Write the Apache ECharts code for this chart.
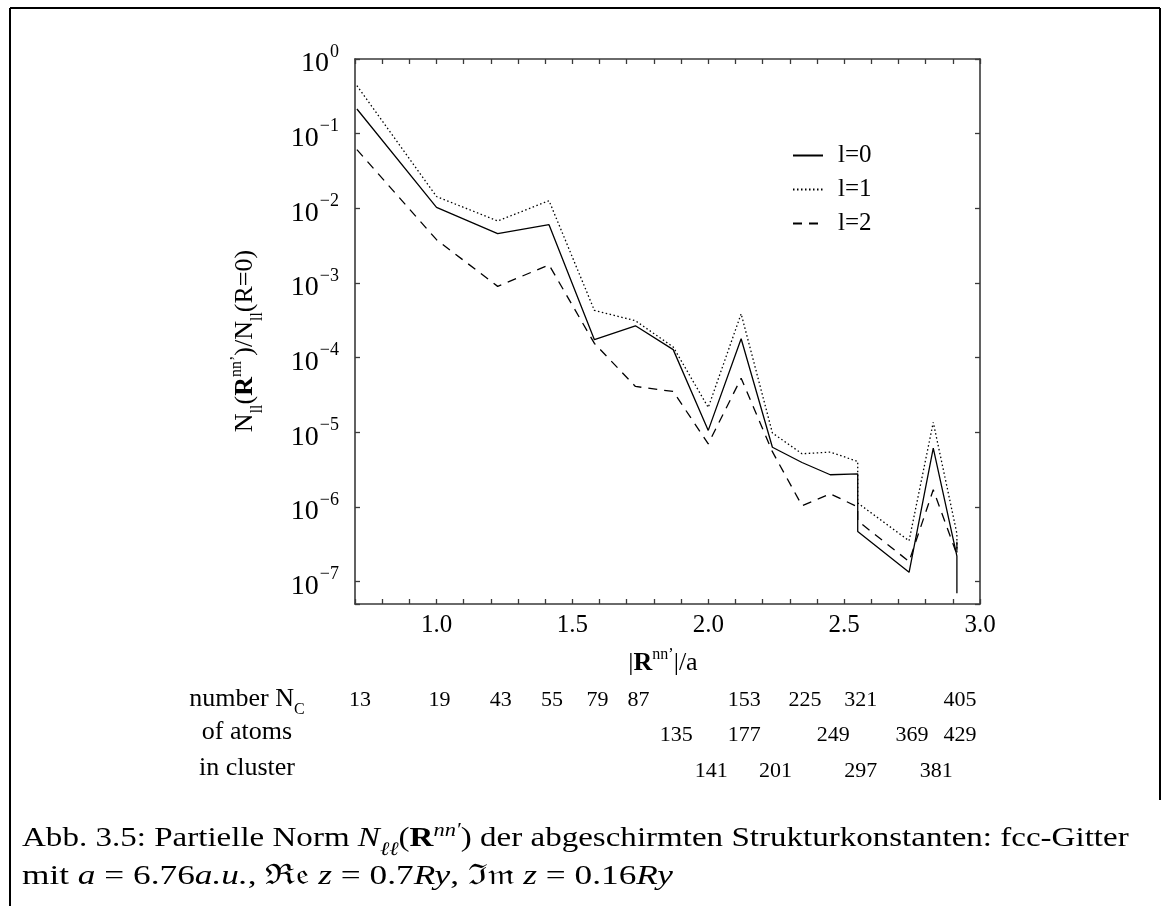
<!DOCTYPE html>
<html><head><meta charset="utf-8">
<script src="https://cdn.jsdelivr.net/npm/echarts@6/dist/echarts.min.js"></script>
<style>html,body{margin:0;padding:0;background:#fff}#c{width:1168px;height:906px}</style>
</head><body><div id="c"></div>
<script>
// shell distances |R|/a (two orbits share 2.55 and 2.915)
const distances = [0.707,1.0,1.225,1.414,1.581,1.732,1.871,2.0,2.121,2.236,2.345,2.449,2.55,2.55,2.739,2.828,2.915,2.915];
const normL0 = [0.214,0.0103,0.00457,0.00603,1.74e-4,2.67e-4,1.28e-4,1.06e-5,1.79e-4,6.3e-6,3.94e-6,2.7e-6,2.78e-6,4.7e-7,1.33e-7,6.15e-6,2.2e-7,7.0e-8];
const normL1 = [0.44,0.0144,0.00676,0.01265,4.29e-4,3.12e-4,1.39e-4,2.15e-5,3.87e-4,9.8e-6,5.16e-6,5.43e-6,4.07e-6,1.13e-6,3.52e-7,1.36e-5,4.4e-7,2.4e-7];
const normL2 = [0.061,3.8e-3,9.0e-4,1.75e-3,1.55e-4,4.11e-5,3.52e-5,7.0e-6,5.3e-5,5.5e-6,1.04e-6,1.5e-6,1.0e-6,6.5e-7,1.86e-7,1.7e-6,2.3e-7,3.8e-7];
const seriesNames = ['l=0','l=1','l=2'];
const xTickValues = [1.0,1.5,2.0,2.5,3.0];
const xTickLabels = ['1.0','1.5','2.0','2.5','3.0'];
const yTickExponents = ['0','\u22121','\u22122','\u22123','\u22124','\u22125','\u22126','\u22127'];
// cluster sizes (number of atoms) at shell distances
const clusterRow1 = [[0.707,'13'],[1.0,'19'],[1.225,'43'],[1.414,'55'],[1.581,'79'],[1.732,'87'],[2.121,'153'],[2.345,'225'],[2.55,'321'],[2.915,'405']];
const clusterRow2 = [[1.871,'135'],[2.121,'177'],[2.449,'249'],[2.739,'369'],[2.915,'429']];
const clusterRow3 = [[2.0,'141'],[2.236,'201'],[2.55,'297'],[2.828,'381']];
const rowLabels = ['{t|number N}{sb|C}','{t|of atoms}','{t|in cluster}'];

const FF = 'Liberation Serif';
const AX = '#3a3a3a';
const chart = echarts.init(document.getElementById('c'), null, {renderer:'canvas'});

function xLab(v){
  for (let i=0;i<xTickValues.length;i++) if (Math.abs(v-xTickValues[i])<1e-6) return xTickLabels[i];
  return '';
}
function yLab(v){
  const e = Math.log10(v), r = Math.round(e);
  if (Math.abs(e-r) > 0.01 || r > 0 || r < -7) return '';
  return '{b|10}{s|' + yTickExponents[-r] + '}';
}
const axisCommon = {
  axisLine:{show:true, onZero:false, lineStyle:{color:AX, width:1.6}},
  axisTick:{show:true, inside:true, length:5, lineStyle:{color:AX, width:1.3}},
  splitLine:{show:false}
};
const mk = (d) => distances.map((x,i)=>[x,d[i]]);
const lineSeries = (name, data, type) => ({
  name, type:'line', data:mk(data), symbol:'none', xAxisIndex:0, yAxisIndex:0,
  lineStyle:{color:'#000', width:1.3, type}, itemStyle:{color:'#000'}, animation:false
});

const option = {
  backgroundColor:'#fff',
  animation:false,
  grid:{left:355, right:188, top:59, bottom:302},
  xAxis:[
    Object.assign({type:'value', min:0.7, max:3.0, interval:0.1, position:'bottom',
      axisLabel:{formatter:xLab, fontSize:25, fontFamily:FF, color:'#000', margin:9}}, axisCommon),
    Object.assign({type:'value', min:0.7, max:3.0, interval:0.1, position:'top',
      axisLabel:{show:false}}, axisCommon)
  ],
  yAxis:[
    Object.assign({type:'log', logBase:10, min:Math.pow(10,-7.3), max:1, position:'left',
      axisLabel:{formatter:yLab, margin:16, color:'#000',
        rich:{b:{fontSize:28, fontFamily:FF, color:'#000', lineHeight:38, verticalAlign:'bottom'},
              s:{fontSize:18, fontFamily:FF, color:'#000', verticalAlign:'top', padding:[3,0,0,1]}}}}, axisCommon),
    Object.assign({type:'log', logBase:10, min:Math.pow(10,-7.3), max:1, position:'right',
      axisLabel:{show:false}}, axisCommon)
  ],
  legend:{orient:'vertical', left:792, top:143, padding:0, itemWidth:30, itemHeight:20, itemGap:9,
    data:seriesNames,
    itemStyle:{color:'rgba(0,0,0,0)', borderWidth:0, opacity:0},
    textStyle:{fontSize:25, fontFamily:FF, color:'#000', padding:[0,0,0,10]}},
  series:[
    lineSeries(seriesNames[0], normL0, 'solid'),
    lineSeries(seriesNames[1], normL1, [1.5,2.5]),
    lineSeries(seriesNames[2], normL2, [9,7])
  ]
};
chart.setOption(option);

const richBase = {
  n:{fontSize:26, fontFamily:FF, color:'#000', padding:[4,0,7,0], verticalAlign:'bottom'},
  r:{fontSize:26, fontFamily:FF, fontWeight:'bold', color:'#000', padding:[4,0,7,0], verticalAlign:'bottom'},
  sb:{fontSize:16, fontFamily:FF, color:'#000', verticalAlign:'bottom'},
  sp:{fontSize:16, fontFamily:FF, color:'#000', verticalAlign:'top'}
};
const tableRich = {
  t:{fontSize:26, fontFamily:FF, color:'#000', padding:[0,0,6,0], verticalAlign:'bottom'},
  sb:{fontSize:16, fontFamily:FF, color:'#000', verticalAlign:'bottom'}
};
const capRich = {
  t:{fontSize:28, fontFamily:FF, color:'#000', padding:[4,0,6,0], verticalAlign:'bottom'},
  i:{fontSize:28, fontFamily:FF, fontStyle:'italic', color:'#000', padding:[4,0,6,0], verticalAlign:'bottom'},
  b:{fontSize:28, fontFamily:FF, fontWeight:'bold', color:'#000', padding:[4,0,6,0], verticalAlign:'bottom'},
  sbi:{fontSize:19, fontFamily:FF, fontStyle:'italic', color:'#000', verticalAlign:'bottom'},
  spi:{fontSize:19, fontFamily:FF, fontStyle:'italic', color:'#000', verticalAlign:'top'}
};

const graphics = [];
// frame
graphics.push({type:'line', shape:{x1:10,y1:8,x2:1160,y2:8}, style:{stroke:'#000', lineWidth:2}});
graphics.push({type:'line', shape:{x1:10,y1:8,x2:10,y2:906}, style:{stroke:'#000', lineWidth:2}});
graphics.push({type:'line', shape:{x1:1160,y1:8,x2:1160,y2:800}, style:{stroke:'#000', lineWidth:2}});
// axis titles
graphics.push({type:'text', x:247, y:341, rotation:Math.PI/2,
  style:{text:'{n|N}{sb|ll}{n|(}{r|R}{sp|nn\u2019}{n|)/N}{sb|ll}{n|(R=0)}', rich:richBase, align:'center', verticalAlign:'middle'}});
graphics.push({type:'text', x:663, y:665,
  style:{text:'{n||}{r|R}{sp|nn\u2019}{n||/a}', rich:richBase, align:'center', verticalAlign:'middle'}});
// table
const rowY = [700, 735, 771];
[clusterRow1, clusterRow2, clusterRow3].forEach((row, k) => {
  graphics.push({type:'text', x:247, y:rowY[k] + (k===0 ? 2 : 0), style:{text:rowLabels[k], rich:tableRich, align:'center', verticalAlign:'middle'}});
  row.forEach(([xv, lab]) => {
    const px = chart.convertToPixel({xAxisIndex:0}, xv);
    graphics.push({type:'text', x:px + 3, y:rowY[k], style:{text:lab, fontSize:22, fontFamily:FF, fill:'#000', align:'center', verticalAlign:'middle'}});
  });
});
// caption
graphics.push({type:'text', x:22, y:840, scaleX:1.18, style:{text:'{t|Abb. 3.5: Partielle Norm }{i|N}{sbi|\u2113\u2113}{t|(}{b|R}{spi|nn\u2032}{t|) der abgeschirmten Strukturkonstanten: fcc-Gitter}', rich:capRich, align:'left', verticalAlign:'middle'}});
graphics.push({type:'text', x:22, y:878, scaleX:1.26, style:{text:'{t|mit }{i|a}{t| = 6.76}{i|a.u.}{t|, \u211C\uD835\uDD22 }{i|z}{t| = 0.7}{i|Ry}{t|, \u2111\uD835\uDD2A }{i|z}{t| = 0.16}{i|Ry}', rich:capRich, align:'left', verticalAlign:'middle'}});

chart.setOption({graphic:{elements:graphics}});
</script>
</body></html>
